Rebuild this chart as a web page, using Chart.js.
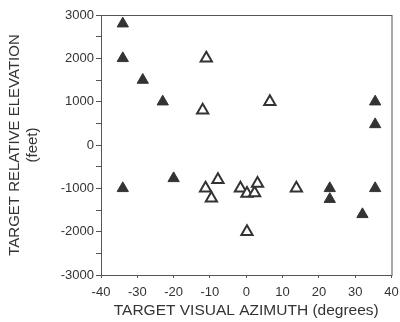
<!DOCTYPE html>
<html>
<head>
<meta charset="utf-8">
<script src="https://cdn.jsdelivr.net/npm/chart.js@4"></script>
<style>
  html, body { margin: 0; padding: 0; background: #fff; }
  #wrap { width: 400px; height: 322px; }
</style>
</head>
<body>
<div id="wrap"><canvas id="chart" width="400" height="322"></canvas></div>
<script>
// filled triangles
var filledX = [-34, -34, -28.5, -23, -34, -20, 35.5, 35.5, 23, 23, 35.5, 32];
var filledY = [2800, 2000, 1500, 1000, -1000, -770, 1000, 475, -1000, -1250, -1000, -1600];
// open triangles
var openX = [-11, -12, 6.5, -11.2, -7.8, -9.6, -1.6, 0.2, 2.3, 3.1, 13.8, 0.2];
var openY = [2000, 800, 1000, -1000, -800, -1230, -1000, -1120, -1110, -890, -1000, -2000];

var xTicks = [-40, -30, -20, -10, 0, 10, 20, 30, 40];
var yLabels = [-3000, -2000, -1000, 0, 1000, 2000, 3000];

function toPoints(xs, ys) {
  var pts = [];
  for (var i = 0; i < xs.length; i++) pts.push({ x: xs[i], y: ys[i] });
  return pts;
}

var ink = "#333333";
var font = "'Liberation Sans', Arial, sans-serif";

// cadre autour de la zone du graphique
var boxPlugin = {
  id: "box",
  beforeDatasetsDraw: function (chart) {
    var a = chart.chartArea;
    var ctx = chart.ctx;
    ctx.save();
    ctx.strokeStyle = "#555";
    ctx.lineWidth = 1;
    ctx.strokeRect(a.left + 0.5, a.top + 0.5, a.right - a.left, a.bottom - a.top);
    ctx.restore();
  }
};

var ctx = document.getElementById("chart").getContext("2d");
var chart = new Chart(ctx, {
  type: "scatter",
  data: {
    datasets: [
      {
        data: toPoints(filledX, filledY),
        pointStyle: "triangle",
        pointRadius: 6.5,
        backgroundColor: ink,
        borderColor: ink,
        borderWidth: 1
      },
      {
        data: toPoints(openX, openY),
        pointStyle: "triangle",
        pointRadius: 6.5,
        backgroundColor: "#ffffff",
        borderColor: ink,
        borderWidth: 2
      }
    ]
  },
  options: {
    responsive: false,
    animation: false,
    layout: { padding: { top: 15, right: 5, left: 0, bottom: 0 } },
    plugins: {
      legend: { display: false },
      tooltip: { enabled: false }
    },
    scales: {
      x: {
        type: "linear",
        min: -40,
        max: 40,
        afterBuildTicks: function (scale) {
          scale.ticks = xTicks.map(function (v) { return { value: v }; });
        },
        afterFit: function (scale) {
          scale.height = 47;
          scale.paddingLeft = 0;
          scale.paddingRight = 0;
        },
        grid: { drawOnChartArea: false, tickLength: 3, color: "#555" },
        border: { display: false },
        ticks: { color: ink, font: { family: font, size: 13 }, padding: 7, maxRotation: 0 },
        title: {
          display: true,
          text: "TARGET VISUAL AZIMUTH (degrees)",
          color: ink,
          font: { family: font, size: 15.5, lineHeight: 1.15 },
          padding: { top: 0, bottom: 2 }
        }
      },
      y: {
        type: "linear",
        min: -3000,
        max: 3000,
        ticks: {
          stepSize: 500,
          color: ink,
          font: { family: font, size: 13 },
          padding: 2,
          callback: function (v) {
            return yLabels.indexOf(v) >= 0 ? String(v) : "";
          }
        },
        afterFit: function (scale) { scale.width = 101; },
        grid: { drawOnChartArea: false, tickLength: 5, color: "#555" },
        border: { display: false },
        title: {
          display: true,
          text: ["TARGET RELATIVE ELEVATION", "(feet)"],
          color: ink,
          font: { family: font, size: 15, lineHeight: 1.2 },
          padding: { top: 6, bottom: 0 }
        }
      }
    }
  },
  plugins: [boxPlugin]
});
</script>
</body>
</html>
